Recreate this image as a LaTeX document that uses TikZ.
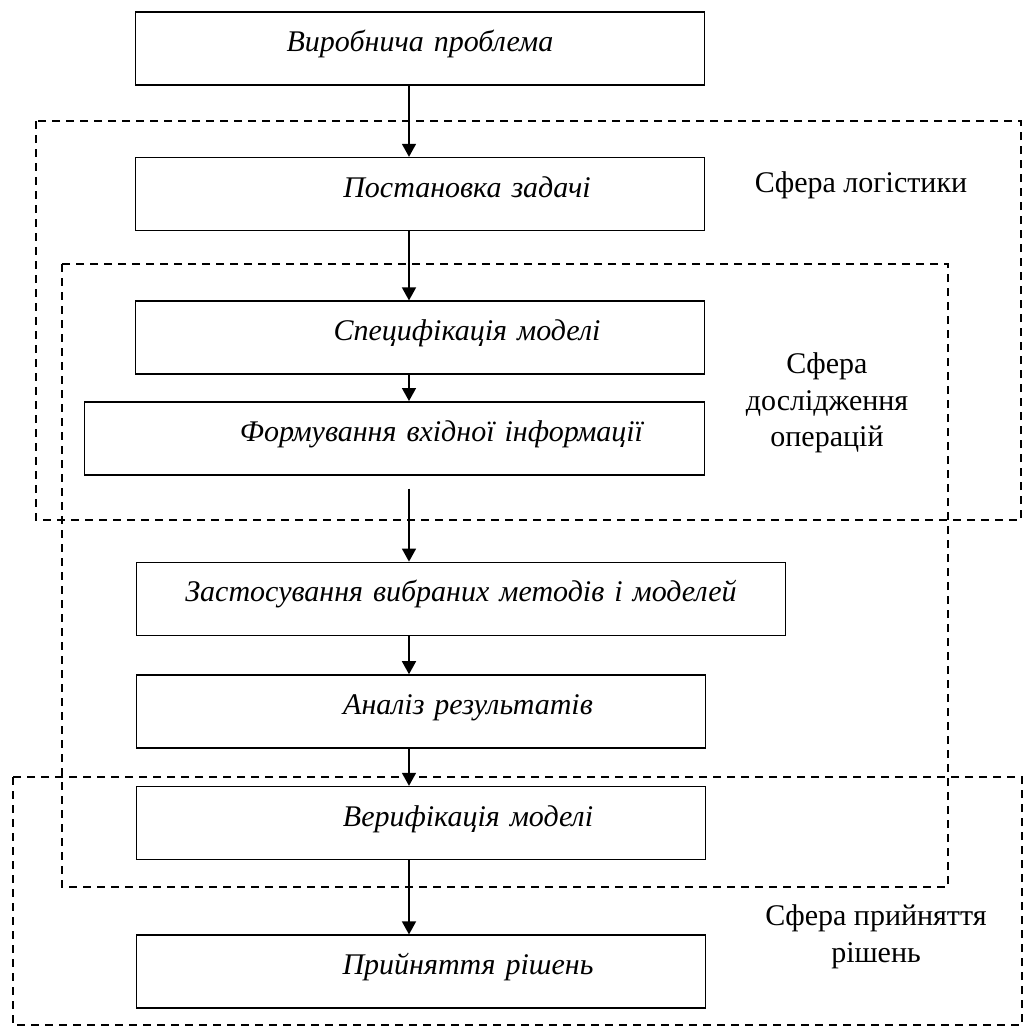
\documentclass[tikz,border=0pt]{standalone}
\usepackage{fontspec}
\setmainfont{Liberation Serif}
\usetikzlibrary{arrows.meta,positioning}
\tikzset{
  stagebox/.style={draw,line width=1.6pt,fill=white,inner xsep=0pt,inner ysep=0pt,
                   text width=569pt,minimum height=73pt,align=center,
                   text height=21pt,text depth=15pt,
                   font=\fontsize{30}{36}\selectfont\itshape},
  zonebox/.style={draw,line width=1.4pt,dash pattern=on 8pt off 6pt},
  zonelabel/.style={align=center,font=\fontsize{30}{36.5}\selectfont},
  flow/.style={-{Triangle[length=13pt,width=14pt]},line width=1.6pt}
}
\newcommand{\indentin}{\hspace*{94pt}}

\begin{document}
\begin{tikzpicture}[x=1pt,y=-1pt]
    \useasboundingbox (0,0) rectangle (1026,1034);
    % dashed zones
    \draw[zonebox] (36,121) rectangle (1021,520);
    \draw[zonebox] (62,264) rectangle (948,887);
    \draw[zonebox] (13,777) rectangle (1022,1025);

    \node[stagebox] (problem) at (420,48.5) {Виробнича проблема};
    \node[stagebox,below=71pt of problem] (task) {\indentin Постановка задачі};
    \node[stagebox,below=69pt of task] (spec) {\indentin Специфікація моделі};
    \node[stagebox,text width=620pt,below=26pt of spec.south east,anchor=north east] (input)
      {\indentin Формування вхідної інформації};
    \node[stagebox,text width=649pt,below=86pt of input.south west,anchor=north west,xshift=52pt] (apply)
      {Застосування вибраних методів і моделей};
    \node[stagebox,below=38pt of apply.south west,anchor=north west] (analysis) {\indentin Аналіз результатів};
    \node[stagebox,below=37pt of analysis] (verify) {\indentin Верифікація моделі};
    \node[stagebox,below=74pt of verify] (decide) {\indentin Прийняття рішень};

    \node[zonelabel] (logistics) at (861,185) {Сфера логістики};
    \node[zonelabel] (research) at (827,403) {Сфера\\дослідження\\операцій};
    \node[zonelabel] (decisions) at (876,937) {Сфера прийняття\\рішень};

    \coordinate (axis) at (409,0);
    \draw[flow] (problem.south -| axis) -- (task.north -| axis);
    \draw[flow] (task.south -| axis) -- (spec.north -| axis);
    \draw[flow] (spec.south -| axis) -- (input.north -| axis);
    \draw[flow] (input.south -| axis) ++(0,13) -- (apply.north -| axis);
    \draw[flow] (apply.south -| axis) -- (analysis.north -| axis);
    \draw[flow] (analysis.south -| axis) -- (verify.north -| axis);
    \draw[flow] (verify.south -| axis) -- (decide.north -| axis);
\end{tikzpicture}
\end{document}
